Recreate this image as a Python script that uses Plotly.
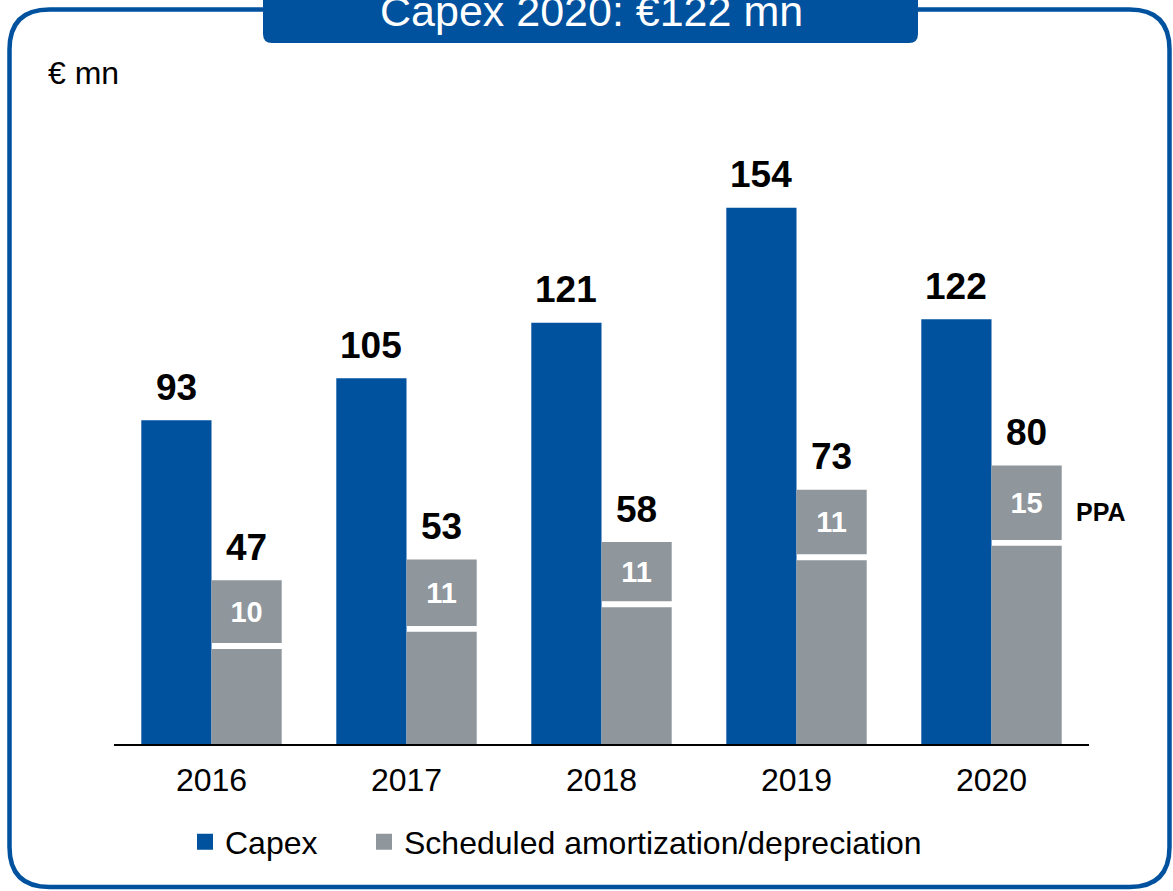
import plotly.graph_objects as go
import numpy as np

# ---------------- data ----------------
years = ["2016", "2017", "2018", "2019", "2020"]
capex = [93, 105, 121, 154, 122]
sched_total = [47, 53, 58, 73, 80]
ppa = [10, 11, 11, 11, 15]
# height of the lower (non-PPA) segment as drawn in the picture
sched_lower = [27.3, 32.2, 39.3, 52.8, 56.9]

# ---------------- style ----------------
BLUE = "#00519E"
GREY = "#8F969C"
FONT = "Liberation Sans, Arial, sans-serif"
W, H = 1173, 891
ML, MR, MT, MB = 114, 84, 152, 147
PW, PH = W - ML - MR, H - MT - MB
SEP = 1.7      # white separator gap (data units)
OFF = 0.18     # half-offset of grouped bars
BW = 0.36      # bar width
TXT = 32

def px_x(p):
    return (p - ML) / PW

def px_y(p):
    return (H - MB - p) / PH

idx = np.arange(len(years))
lower = np.array(sched_lower)
total = np.array(sched_total)

fig = go.Figure()

fig.add_trace(go.Bar(x=idx - OFF, y=capex, width=BW, marker=dict(color=BLUE, line=dict(width=0)),
                     showlegend=False, hoverinfo="skip"))
fig.add_trace(go.Bar(x=idx + OFF, y=lower, width=BW, marker=dict(color=GREY, line=dict(width=0)),
                     showlegend=False, hoverinfo="skip"))
fig.add_trace(go.Bar(x=idx + OFF, y=total - lower - SEP, base=lower + SEP, width=BW,
                     marker=dict(color=GREY, line=dict(width=0)),
                     text=[str(v) for v in ppa], textposition="inside", insidetextanchor="middle",
                     textangle=0, constraintext="none",
                     textfont=dict(family=FONT, size=29, color="white", weight="bold"),
                     showlegend=False, hoverinfo="skip"))

# legend entries
fig.add_trace(go.Scatter(x=[None], y=[None], mode="markers", name="Capex",
                         marker=dict(symbol="square", size=17, color=BLUE), legend="legend"))
fig.add_trace(go.Scatter(x=[None], y=[None], mode="markers", name="Scheduled amortization/depreciation",
                         marker=dict(symbol="square", size=17, color=GREY), legend="legend2"))

annotations = []
for i in range(len(years)):
    annotations.append(dict(x=idx[i] - OFF, y=capex[i], xref="x", yref="y", text=f"<b>{capex[i]}</b>",
                            showarrow=False, yanchor="middle", yshift=33,
                            font=dict(family=FONT, size=37, color="black")))
    annotations.append(dict(x=idx[i] + OFF, y=sched_total[i], xref="x", yref="y", text=f"<b>{sched_total[i]}</b>",
                            showarrow=False, yanchor="middle", yshift=33,
                            font=dict(family=FONT, size=37, color="black")))

# PPA label next to last bar
last = len(years) - 1
annotations.append(dict(x=idx[last] + OFF + BW / 2, y=(lower[last] + SEP + total[last]) / 2, xref="x", yref="y",
                        text="<b>PPA</b>", showarrow=False, xanchor="left", yanchor="middle",
                        xshift=12, yshift=-9, font=dict(family=FONT, size=25, color="black")))

# unit label
annotations.append(dict(x=px_x(46), y=px_y(73), xref="paper", yref="paper", text="€ mn",
                        showarrow=False, xanchor="left", yanchor="middle",
                        font=dict(family=FONT, size=TXT, color="black")))
# title in box
annotations.append(dict(x=px_x(591), y=px_y(11), xref="paper", yref="paper", text="Capex 2020: €122 mn",
                        showarrow=False, xanchor="center", yanchor="middle",
                        font=dict(family=FONT, size=43, color="white")))

# frame: rounded rectangle
x0, y0, x1, y1, r = 9.5, 9.5, 1169.5, 887, 40
def P(x, y):
    return f"{px_x(x):.5f},{px_y(y):.5f}"
frame_path = (f"M {P(x0 + r, y0)} L {P(x1 - r, y0)} Q {P(x1, y0)} {P(x1, y0 + r)} "
              f"L {P(x1, y1 - r)} Q {P(x1, y1)} {P(x1 - r, y1)} L {P(x0 + r, y1)} "
              f"Q {P(x0, y1)} {P(x0, y1 - r)} L {P(x0, y0 + r)} Q {P(x0, y0)} {P(x0 + r, y0)} Z")
bx0, bx1, by0, by1, br = 263, 918, -10, 43, 9
box_path = (f"M {P(bx0, by0)} L {P(bx1, by0)} L {P(bx1, by1 - br)} Q {P(bx1, by1)} {P(bx1 - br, by1)} "
            f"L {P(bx0 + br, by1)} Q {P(bx0, by1)} {P(bx0, by1 - br)} Z")
shapes = [
    dict(type="path", xref="paper", yref="paper", path=frame_path, line=dict(color=BLUE, width=4.5),
         fillcolor="rgba(0,0,0,0)", layer="above"),
    dict(type="path", xref="paper", yref="paper", path=box_path, line=dict(color=BLUE, width=0),
         fillcolor=BLUE, layer="above"),
]

fig.update_layout(
    width=W, height=H, autosize=False,
    margin=dict(l=ML, r=MR, t=MT, b=MB, pad=0),
    paper_bgcolor="white", plot_bgcolor="white",
    barmode="overlay",
    font=dict(family=FONT, size=TXT, color="black"),
    xaxis=dict(range=[-0.5, len(years) - 0.5], tickmode="array", tickvals=idx, ticktext=years,
               showline=True, linecolor="black", linewidth=2, showgrid=False, zeroline=False,
               ticks="", ticklabelstandoff=7, tickfont=dict(family=FONT, size=TXT, color="black"),
               fixedrange=True),
    yaxis=dict(range=[0, 170], visible=False, showgrid=False, zeroline=False, fixedrange=True),
    legend=dict(orientation="h", x=px_x(185), y=px_y(842), xanchor="left", yanchor="middle",
                font=dict(family=FONT, size=TXT, color="black"), bgcolor="rgba(0,0,0,0)"),
    legend2=dict(orientation="h", x=px_x(364), y=px_y(842), xanchor="left", yanchor="middle",
                 font=dict(family=FONT, size=TXT, color="black"), bgcolor="rgba(0,0,0,0)"),
    annotations=annotations,
    shapes=shapes,
)

fig.write_html("out.html", config={"displayModeBar": False},
               post_script="document.body.style.margin='0px';document.body.style.overflow='hidden';")
